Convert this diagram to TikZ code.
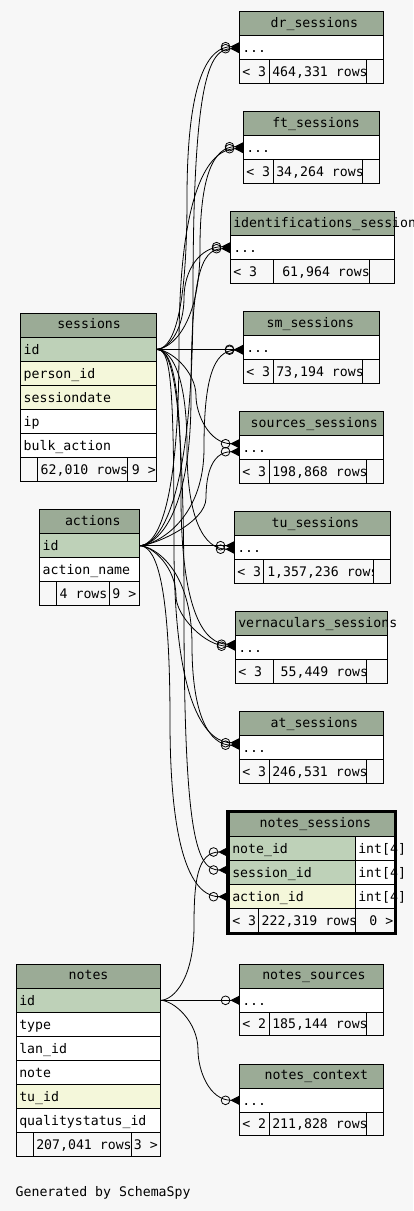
\documentclass[tikz,border=0pt]{standalone}
\usepackage{fontspec}
\usetikzlibrary{arrows.meta}
\newfontfamily\tabfont{DejaVu Sans Mono}

\definecolor{pagebg}{HTML}{F7F7F7}
\definecolor{headbg}{HTML}{9BAB96}
\definecolor{keybg}{HTML}{BED1B8}
\definecolor{idxbg}{HTML}{F4F7DA}

% one table cell: name, x, y (top left), width, height, fill, alignment, text
\newcommand\tcell[8]{%
  \node[tcell, fill=#6, minimum width=#4pt, minimum height=#5pt] (#1) at (#2,#3)
    {\makebox[\dimexpr #4pt-6pt\relax][#7]{#8}};}
% title text: left indent, raised a little in the header row
\newcommand\htitle[2]{\hspace*{#1pt}\raisebox{1.3pt}{#2}}
% link table head: prefix, x, top, width, title indent, title
\newcommand\linkhead[6]{%
  \tcell{#1-h}{#2}{#3}{#4}{24}{headbg}{l}{\htitle{#5}{#6}}%
  \pgfmathsetmacro\tblrowy{#3+24}%
  \tcell{#1-r}{#2}{\tblrowy}{#4}{24}{white}{l}{...}}
% link table footer: prefix, x, top, three widths, left text, middle text
\newcommand\linkfoot[8]{%
  \tcell{#1-f1}{#2}{#3}{#4}{23.3}{pagebg}{l}{#7}%
  \pgfmathsetmacro\tblcolb{#2+#4}%
  \tcell{#1-f2}{\tblcolb}{#3}{#5}{23.3}{pagebg}{l}{#8}%
  \pgfmathsetmacro\tblcolc{#2+#4+#5}%
  \tcell{#1-f3}{\tblcolc}{#3}{#6}{23.3}{pagebg}{l}{}}

\begin{document}
\begin{tikzpicture}[x=1pt,y=-1pt,
  tcell/.style={draw=black, line width=1pt, anchor=north west, inner xsep=3pt,
    inner ysep=0pt, outer sep=0pt, text height=9.4pt, text depth=0pt,
    font=\tabfont\fontsize{13.2}{15}\selectfont},
  rel/.style={draw=black, line width=0.8pt,
    -{Circle[open,length=9.5pt,width=9.5pt,sep=0pt] Triangle[reversed,length=9pt,width=9pt,sep=0pt]}}]
\useasboundingbox (0,0) rectangle (413,1211);
\fill[pagebg] (0,0) rectangle (413,1211);

% ---- session link tables
\linkhead{dr}{239.3}{11.7}{144}{28.4}{dr\_sessions}
\linkfoot{dr}{239.3}{59.7}{30}{97.4}{16.6}{< 3}{464,331 rows}
\linkhead{ft}{243.3}{111.7}{136}{26}{ft\_sessions}
\linkfoot{ft}{243.3}{159.7}{30}{89.4}{16.6}{< 3}{34,264 rows}
\linkhead{idf}{230.3}{211.7}{164}{0}{identifications\_sessions}
\linkfoot{idf}{230.3}{259.7}{43}{96.4}{24.6}{< 3}{\hspace*{6pt}61,964 rows}
\linkhead{sm}{243.3}{311.7}{136}{20.4}{sm\_sessions}
\linkfoot{sm}{243.3}{359.7}{30}{89.4}{16.6}{< 3}{73,194 rows}
\linkhead{src}{239.3}{411.7}{144}{8.4}{sources\_sessions}
\linkfoot{src}{239.3}{459.7}{30}{97.4}{16.6}{< 3}{198,868 rows}
\linkhead{tu}{234.3}{511.7}{156}{34.4}{tu\_sessions}
\linkfoot{tu}{234.3}{559.7}{29}{110}{17}{< 3}{\hspace*{1pt}1,357,236 rows}
\linkhead{vn}{235.3}{611.7}{152}{0}{vernaculars\_sessions}
\linkfoot{vn}{235.3}{659.7}{38}{93.4}{20.6}{< 3}{\hspace*{4.4pt}55,449 rows}
\linkhead{at}{239.3}{711.7}{144}{28.4}{at\_sessions}
\linkfoot{at}{239.3}{759.7}{30}{97.4}{16.6}{< 3}{246,531 rows}

% ---- notes link tables
\linkhead{nsrc}{239.3}{964.3}{144}{20}{notes\_sources}
\linkfoot{nsrc}{239.3}{1012.3}{30}{97.4}{16.6}{< 2}{185,144 rows}
\linkhead{nctx}{239.3}{1064.3}{144}{22.4}{notes\_context}
\linkfoot{nctx}{239.3}{1112.3}{30}{97.4}{16.6}{< 2}{211,828 rows}

% ---- sessions
\tcell{ses-h}{20.7}{313.7}{135.6}{23.6}{headbg}{l}{\htitle{33.6}{sessions}}
\tcell{ses-id}{20.7}{337.3}{135.6}{24}{keybg}{l}{id}
\tcell{ses-person}{20.7}{361.3}{135.6}{24}{idxbg}{l}{person\_id}
\tcell{ses-date}{20.7}{385.3}{135.6}{24}{idxbg}{l}{sessiondate}
\tcell{ses-ip}{20.7}{409.3}{135.6}{24}{white}{l}{ip}
\tcell{ses-bulk}{20.7}{433.3}{135.6}{24}{white}{l}{bulk\_action}
\tcell{ses-f1}{20.7}{457.3}{17}{24}{pagebg}{l}{}
\tcell{ses-f2}{37.7}{457.3}{90}{24}{pagebg}{l}{62,010 rows}
\tcell{ses-f3}{127.7}{457.3}{28.6}{24}{pagebg}{r}{9 >\hspace*{-2.4pt}}

% ---- actions
\tcell{act-h}{39.7}{509.7}{99.6}{24}{headbg}{l}{\htitle{22.3}{actions}}
\tcell{act-id}{39.7}{533.7}{99.6}{24}{keybg}{l}{id}
\tcell{act-name}{39.7}{557.7}{99.6}{24}{white}{l}{action\_name}
\tcell{act-f1}{39.7}{581.7}{17}{23.6}{pagebg}{l}{}
\tcell{act-f2}{56.7}{581.7}{53}{23.6}{pagebg}{l}{4 rows}
\tcell{act-f3}{109.7}{581.7}{29.6}{23.6}{pagebg}{r}{9 >}

% ---- notes
\tcell{nt-h}{16.3}{964.3}{144}{24}{headbg}{l}{\htitle{49.4}{notes}}
\tcell{nt-id}{16.3}{988.3}{144}{24}{keybg}{l}{id}
\tcell{nt-type}{16.3}{1012.3}{144}{24}{white}{l}{type}
\tcell{nt-lan}{16.3}{1036.3}{144}{24}{white}{l}{lan\_id}
\tcell{nt-note}{16.3}{1060.3}{144}{24}{white}{l}{note}
\tcell{nt-tu}{16.3}{1084.3}{144}{24}{idxbg}{l}{tu\_id}
\tcell{nt-qs}{16.3}{1108.3}{144}{24}{white}{l}{qualitystatus\_id}
\tcell{nt-f1}{16.3}{1132.3}{17}{24}{pagebg}{l}{}
\tcell{nt-f2}{33.3}{1132.3}{98.4}{24}{pagebg}{l}{207,041 rows}
\tcell{nt-f3}{131.7}{1132.3}{28.6}{24}{pagebg}{r}{3 >\hspace*{-0.4pt}}

% ---- notes_sessions (focus table, heavy frame)
\tcell{ns-h}{229.3}{812.3}{165}{24.4}{headbg}{l}{\htitle{27.4}{notes\_sessions}}
\tcell{ns-note}{229.3}{836.7}{126}{24}{keybg}{l}{note\_id}
\tcell{ns-note-t}{355.3}{836.7}{39}{24}{white}{l}{int[4]}
\tcell{ns-sess}{229.3}{860.7}{126}{24}{keybg}{l}{session\_id}
\tcell{ns-sess-t}{355.3}{860.7}{39}{24}{white}{l}{int[4]}
\tcell{ns-act}{229.3}{884.7}{126}{24}{idxbg}{l}{action\_id}
\tcell{ns-act-t}{355.3}{884.7}{39}{24}{white}{l}{int[4]}
\tcell{ns-f1}{229.3}{908.7}{29}{24.3}{pagebg}{l}{< 3}
\tcell{ns-f2}{258.3}{908.7}{97}{24.3}{pagebg}{l}{\hspace*{0.4pt}222,319 rows}
\tcell{ns-f3}{355.3}{908.7}{39}{24.3}{pagebg}{r}{0 >\hspace*{-2pt}}
\draw[line width=3pt] (227.2,811.5) rectangle (395.2,933.5);

% ---- relationships from sessions.id
\draw[rel] (ses-id.east) .. controls (170,349.3) and (187,327) .. (187,198)
  .. controls (187,77) and (209,46.7) .. ([yshift=1pt]dr-r.west);
\draw[rel] (ses-id.east) .. controls (170,349.3) and (200,327) .. (200,248)
  .. controls (200,177) and (213,146.7) .. ([yshift=1pt]ft-r.west);
\draw[rel] (ses-id.east) .. controls (170,349.3) and (184,327) .. (184,298)
  .. controls (184,270) and (200,246.7) .. ([yshift=1pt]idf-r.west);
\draw[rel] (ses-id.east) -- ([yshift=-1.6pt]sm-r.west);
\draw[rel] (ses-id.east) .. controls (170,349.3) and (196,371) .. (196,396)
  .. controls (196,414) and (209,443.7) .. ([yshift=4pt]src-r.west);
\draw[rel] (ses-id.east) .. controls (170,349.3) and (187,371) .. (187,448)
  .. controls (187,519) and (204,549.2) .. ([yshift=-1.5pt]tu-r.west);
\draw[rel] (ses-id.east) .. controls (170,349.3) and (181,371) .. (181,496)
  .. controls (181,614) and (205,644.2) .. ([yshift=3.5pt]vn-r.west);
\draw[rel] (ses-id.east) .. controls (170,349.3) and (174,371) .. (174,546)
  .. controls (174,713) and (209,742.7) .. ([yshift=5pt]at-r.west);
\draw[rel] (ses-id.east) .. controls (170,349.3) and (184,371) .. (184,610)
  .. controls (184,840) and (197,870) .. ([xshift=-2pt,yshift=2.7pt]ns-sess.west);

% ---- relationships from actions.id
\draw[rel] (act-id.east) .. controls (153,545.7) and (193,523) .. (193,297)
  .. controls (193,79) and (209,48.7) .. ([yshift=-1pt]dr-r.west);
\draw[rel] (act-id.east) .. controls (153,545.7) and (179,523) .. (179,347)
  .. controls (179,179) and (213,148.7) .. ([yshift=-1pt]ft-r.west);
\draw[rel] (act-id.east) .. controls (153,545.7) and (191,523) .. (191,397)
  .. controls (191,279) and (200,248.7) .. ([yshift=-1pt]idf-r.west);
\draw[rel] (act-id.east) .. controls (153,545.7) and (204,523) .. (204,448)
  .. controls (204,380) and (213,350.2) .. ([yshift=-2.5pt]sm-r.west);
\draw[rel] (act-id.east) .. controls (153,545.7) and (206,523) .. (206,498)
  .. controls (206,481) and (209,451.7) .. ([yshift=-4pt]src-r.west);
\draw[rel] (act-id.east) -- ([yshift=2pt]tu-r.west);
\draw[rel] (act-id.east) .. controls (153,545.7) and (176,568) .. (176,596)
  .. controls (176,616) and (205,646.2) .. ([yshift=1.5pt]vn-r.west);
\draw[rel] (act-id.east) .. controls (153,545.7) and (192,568) .. (192,645)
  .. controls (192,715) and (209,745.2) .. ([yshift=2.5pt]at-r.west);
\draw[rel] (act-id.east) .. controls (153,545.7) and (170,568) .. (170,721)
  .. controls (170,867) and (197,896.7) .. ([xshift=-2pt]ns-act.west);

% ---- relationships from notes.id
\draw[rel] (nt-id.east) .. controls (174,1000.3) and (194,978) .. (194,926)
  .. controls (194,882) and (197,852) .. ([xshift=-2pt,yshift=-3.3pt]ns-note.west);
\draw[rel] (nt-id.east) -- (nsrc-r.west);
\draw[rel] (nt-id.east) .. controls (174,1000.3) and (198,1022) .. (198,1050)
  .. controls (198,1070) and (209,1100.3) .. (nctx-r.west);

\node[anchor=base west, inner sep=0pt, font=\tabfont\fontsize{13.2}{15}\selectfont]
  (credit) at (15.5,1196.7) {Generated by SchemaSpy};
\end{tikzpicture}
\end{document}
